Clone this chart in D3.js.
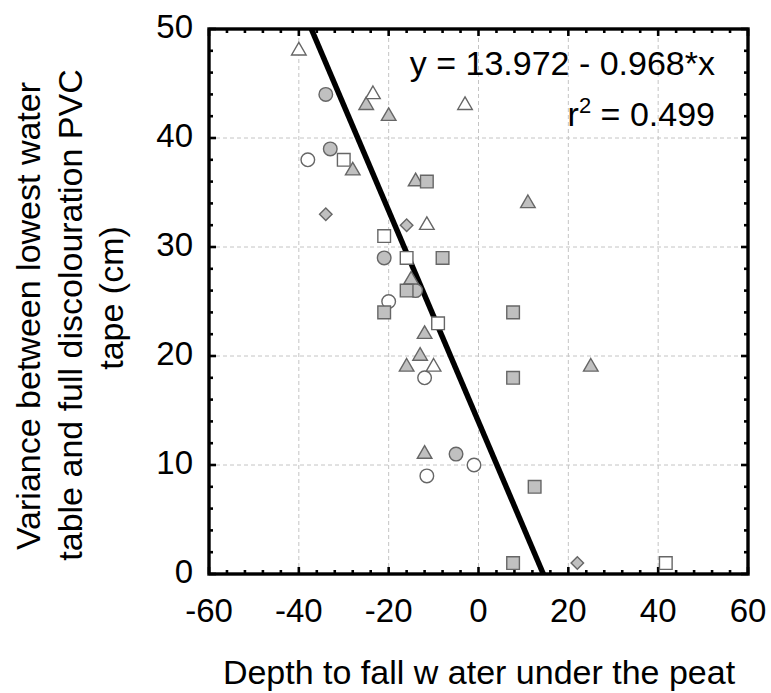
<!DOCTYPE html>
<html>
<head>
<meta charset="utf-8">
<script src="https://cdn.jsdelivr.net/npm/d3@7"></script>
<style>
  html, body { margin: 0; padding: 0; background: #fff; }
  svg { display: block; font-family: "Liberation Sans", Arial, sans-serif; }
</style>
</head>
<body>
<div id="chart"></div>
<script>
// series: [depth, variance]
const grayCircles = [[-34, 44], [-33, 39], [-21, 29], [-14, 26], [-5, 11]];
const openCircles = [[-38, 38], [-20, 25], [-12, 18], [-11.5, 9], [-1, 10]];
const grayTriangles = [[-25, 43], [-20, 42], [-28, 37], [-14, 36], [11, 34], [-15, 27],
  [-12, 22], [-13, 20], [-16, 19], [25, 19], [-12, 11]];
const openTriangles = [[-40, 48], [-23.5, 44], [-3, 43], [-11.5, 32], [-10, 19]];
const graySquares = [[-11.5, 36], [-8, 29], [-16, 26], [-21, 24], [7.7, 24], [7.7, 18],
  [12.5, 8], [7.7, 1]];
const openSquares = [[-30, 38], [-21, 31], [-16, 29], [-9, 23], [41.7, 1]];
const grayDiamonds = [[-34, 33], [-16, 32], [22, 1]];

const xTicks = [-60, -40, -20, 0, 20, 40, 60];
const yTicks = [0, 10, 20, 30, 40, 50];
const intercept = 13.972;
const slope = -0.968;
const r2 = 0.499;

const W = 771, H = 693;
const margin = { top: 29, right: 23, bottom: 119, left: 209 };

const svg = d3.select("#chart").append("svg")
  .attr("width", W).attr("height", H);

const x = d3.scaleLinear().domain([-60, 60]).range([margin.left, W - margin.right]);
const y = d3.scaleLinear().domain([0, 50]).range([H - margin.bottom, margin.top]);

const [x0, x1] = x.range();
const [y0, y1] = y.range();

// grid
const grid = svg.append("g")
  .attr("stroke", "#c4c4c4").attr("stroke-width", 1).attr("stroke-dasharray", "4,3");
grid.selectAll(".gx").data(xTicks.slice(1, -1)).enter().append("line")
  .attr("x1", d => x(d)).attr("x2", d => x(d)).attr("y1", y0).attr("y2", y1);
grid.selectAll(".gy").data(yTicks.slice(1, -1)).enter().append("line")
  .attr("y1", d => y(d)).attr("y2", d => y(d)).attr("x1", x0).attr("x2", x1);

// ticks on every side, pointing in
const xMinor = d3.range(-60, 60.01, 4);
const yMinor = d3.range(0, 50.01, 2);
const ticks = svg.append("g").attr("stroke", "#000").attr("stroke-width", 2.6);
const isMajorX = v => xTicks.includes(Math.round(v));
const isMajorY = v => yTicks.includes(Math.round(v));
xMinor.forEach(v => {
  const len = isMajorX(v) ? 7 : 4;
  ticks.append("line").attr("x1", x(v)).attr("x2", x(v)).attr("y1", y0).attr("y2", y0 - len);
  ticks.append("line").attr("x1", x(v)).attr("x2", x(v)).attr("y1", y1).attr("y2", y1 + len);
});
yMinor.forEach(v => {
  const len = isMajorY(v) ? 7 : 4;
  ticks.append("line").attr("y1", y(v)).attr("y2", y(v)).attr("x1", x0).attr("x2", x0 + len);
  ticks.append("line").attr("y1", y(v)).attr("y2", y(v)).attr("x1", x1).attr("x2", x1 - len);
});

// frame
svg.append("rect")
  .attr("x", x0).attr("y", y1).attr("width", x1 - x0).attr("height", y0 - y1)
  .attr("fill", "none").attr("stroke", "#000").attr("stroke-width", 3.4);

// tick labels
svg.append("g").selectAll("text").data(xTicks).enter().append("text")
  .attr("x", d => x(d)).attr("y", 622)
  .attr("text-anchor", "middle").attr("font-size", 33)
  .text(d => d);
svg.append("g").selectAll("text").data(yTicks).enter().append("text")
  .attr("x", 193).attr("y", d => y(d) + 9)
  .attr("text-anchor", "end").attr("font-size", 33)
  .text(d => d);

// regression line
svg.append("clipPath").attr("id", "plot")
  .append("rect").attr("x", x0).attr("y", y1).attr("width", x1 - x0).attr("height", y0 - y1);
const fit = v => intercept + slope * v;
const xa = (50 - intercept) / slope, xb = (0 - intercept) / slope;
svg.append("line")
  .attr("clip-path", "url(#plot)")
  .attr("x1", x(xa)).attr("y1", y(fit(xa)))
  .attr("x2", x(xb)).attr("y2", y(fit(xb)))
  .attr("stroke", "#000").attr("stroke-width", 5.5);

// markers
const gray = "#c0c0c0", edge = "#666";
const series = [
  { data: grayCircles, type: d3.symbolCircle, size: 145, fill: gray },
  { data: openCircles, type: d3.symbolCircle, size: 145, fill: "#fff" },
  { data: grayTriangles, type: d3.symbolTriangle, size: 92, fill: gray },
  { data: openTriangles, type: d3.symbolTriangle, size: 92, fill: "#fff" },
  { data: graySquares, type: d3.symbolSquare, size: 160, fill: gray },
  { data: openSquares, type: d3.symbolSquare, size: 160, fill: "#fff" },
  { data: grayDiamonds, type: d3.symbolSquare, size: 78, fill: gray, rot: 45 }
];
series.forEach(s => {
  svg.append("g").selectAll("path").data(s.data).enter().append("path")
    .attr("d", d3.symbol().type(s.type).size(s.size))
    .attr("transform", d => `translate(${x(d[0])},${y(d[1])})` + (s.rot ? ` rotate(${s.rot})` : ""))
    .attr("fill", s.fill).attr("stroke", edge).attr("stroke-width", 1.4);
});

// equation
svg.append("text").attr("x", 715).attr("y", 75)
  .attr("text-anchor", "end").attr("font-size", 34)
  .text(`y = ${intercept} - ${Math.abs(slope)}*x`);
const rt = svg.append("text").attr("x", 715).attr("y", 126)
  .attr("text-anchor", "end").attr("font-size", 34);
rt.append("tspan").text("r");
rt.append("tspan").attr("font-size", 22).attr("dy", -13).text("2");
rt.append("tspan").attr("dy", 13).text(` = ${r2}`);

// axis titles
svg.append("text").attr("x", 479).attr("y", 684)
  .attr("text-anchor", "middle").attr("font-size", 34)
  .text("Depth to fall w ater under the peat");

const yTitle = [
  { t: "Variance between lowest water", bx: 40, cy: 316 },
  { t: "table and full discolouration PVC", bx: 82, cy: 315 },
  { t: "tape (cm)", bx: 123, cy: 298 }
];
svg.append("g").selectAll("text").data(yTitle).enter().append("text")
  .attr("transform", d => `translate(${d.bx},${d.cy}) rotate(-90)`)
  .attr("text-anchor", "middle").attr("font-size", 34)
  .text(d => d.t);
</script>
</body>
</html>
